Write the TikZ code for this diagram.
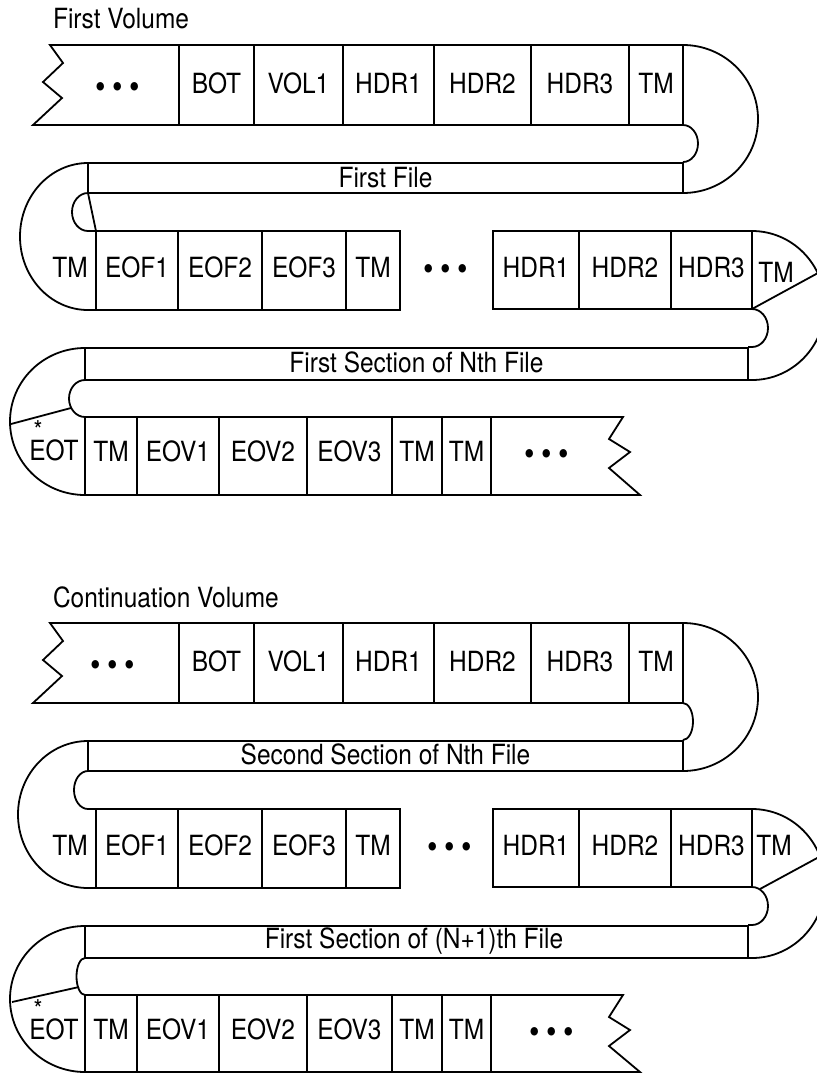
\documentclass[tikz,border=0pt]{standalone}
\usepackage{fontspec}
\setmainfont{TeX Gyre Heros}[FakeStretch=0.88]
\newcommand{\tapeDots}{\makebox[8.4pt]{•}\makebox[8.4pt]{•}\makebox[8.4pt]{•}}
\newcommand{\starMark}{\makebox[0pt][l]{\hspace{2.2pt}\raisebox{10.5pt}{\fontsize{13}{14}\selectfont *}}}
\tikzset{
  tapeLine/.style={line width=0.9pt},
  cellText/.style={anchor=base, inner sep=0pt},
  titleText/.style={anchor=base west},
  dotText/.style={anchor=base, inner sep=0pt, font=\fontsize{17}{18}\selectfont}
}

\begin{document}
\begin{tikzpicture}[x=0.5pt, y=-0.5pt, font={\fontsize{13.9}{16}\selectfont}]
      \useasboundingbox (0,0) rectangle (817,1073);
      \fill[white] (0,0) rectangle (817,1073);

      % first volume
      \draw (46,28) node[titleText] (titleA) {First Volume};
      \draw[tapeLine] (683,45) -- (50,45) -- (63,63) -- (43,82) -- (62,98) -- (33,125) -- (683,125);
      \draw[tapeLine] (179,45) -- (179,125);
      \draw[tapeLine] (254,45) -- (254,125);
      \draw[tapeLine] (343,45) -- (343,125);
      \draw[tapeLine] (434,45) -- (434,125);
      \draw[tapeLine] (531,45) -- (531,125);
      \draw[tapeLine] (629,45) -- (629,125);
      \draw[tapeLine] (683,45) -- (683,125);
      \draw[tapeLine] (683,45) arc[start angle=-90, end angle=90, x radius=75, y radius=74];
      \draw[tapeLine] (683,125) arc[start angle=-90, end angle=90, x radius=15, y radius=18.5];
      \draw (118,98) node[dotText] (dotsA1) {\tapeDots};
      \draw (216.5,93) node[cellText] (botA) {BOT};
      \draw (298.5,93) node[cellText] (volA) {VOL1};
      \draw (388.5,93) node[cellText] (hdrOneA) {HDR1};
      \draw (482.5,93) node[cellText] (hdrTwoA) {HDR2};
      \draw (580,93) node[cellText] (hdrThreeA) {HDR3};
      \draw (656,93) node[cellText] (tmA1) {TM};

      \draw[tapeLine] (88,163) rectangle (683,193);
      \draw (385.5,187) node[cellText] (fileA) {First File};
      \draw[tapeLine] (88,163) arc[start angle=270, end angle=90, x radius=68, y radius=73.5] -- (96,310);
      \draw[tapeLine] (88,193) arc[start angle=270, end angle=90, x radius=16, y radius=19] -- (96,231);
      \draw[tapeLine] (88,193) -- (96,231);

      \draw[tapeLine] (96,231) rectangle (400,310);
      \draw[tapeLine] (178,231) -- (178,310);
      \draw[tapeLine] (262,231) -- (262,310);
      \draw[tapeLine] (346,231) -- (346,310);
      \draw (70,277) node[cellText] (tmA2) {TM};
      \draw (137,277) node[cellText] (eofOneA) {EOF1};
      \draw (220,277) node[cellText] (eofTwoA) {EOF2};
      \draw (304,277) node[cellText] (eofThreeA) {EOF3};
      \draw (373,277) node[cellText] (tmA3) {TM};
      \draw (446,280) node[dotText] (dotsA2) {\tapeDots};

      \draw[tapeLine] (752,231) -- (493,231) -- (493,309) -- (752,309) -- cycle;
      \draw[tapeLine] (579,231) -- (579,309);
      \draw[tapeLine] (671,231) -- (671,309);
      \draw[tapeLine] (752,231) arc[start angle=-90, end angle=90, x radius=73, y radius=74.5] -- (748,380);
      \draw[tapeLine] (752,309) arc[start angle=-90, end angle=90, x radius=16, y radius=19] -- (748,347);
      \draw[tapeLine] (752,309) -- (818,273);
      \draw (536,277) node[cellText] (hdrOneA2) {HDR1};
      \draw (625,277) node[cellText] (hdrTwoA2) {HDR2};
      \draw (711.5,277) node[cellText] (hdrThreeA2) {HDR3};
      \draw (776,282) node[cellText] (tmA4) {TM};

      \draw[tapeLine] (85,348) rectangle (748,380);
      \draw (416.5,372) node[cellText] (sectionA) {First Section of Nth File};
      \draw[tapeLine] (85,348) arc[start angle=270, end angle=90, x radius=75, y radius=73.5];
      \draw[tapeLine] (85,380) arc[start angle=270, end angle=90, x radius=16, y radius=18.5];
      \draw[tapeLine] (71,408) -- (11,424);

      \draw[tapeLine] (85,417) -- (623,417) -- (609,439) -- (630,452) -- (609,468) -- (640,495) -- (85,495) -- cycle;
      \draw[tapeLine] (137,417) -- (137,495);
      \draw[tapeLine] (219,417) -- (219,495);
      \draw[tapeLine] (307,417) -- (307,495);
      \draw[tapeLine] (392,417) -- (392,495);
      \draw[tapeLine] (442,417) -- (442,495);
      \draw[tapeLine] (491,417) -- (491,495);
      \draw (54,460) node[cellText] (eotA) {\starMark EOT};
      \draw (111,461) node[cellText] (tmA5) {TM};
      \draw (178,461) node[cellText] (eovOneA) {EOV1};
      \draw (263,461) node[cellText] (eovTwoA) {EOV2};
      \draw (349.5,461) node[cellText] (eovThreeA) {EOV3};
      \draw (417,461) node[cellText] (tmA6) {TM};
      \draw (466.5,461) node[cellText] (tmA7) {TM};
      \draw (547,465) node[dotText] (dotsA3) {\tapeDots};

      % continuation volume
      \draw (46,607) node[titleText] (titleB) {Continuation Volume};
      \draw[tapeLine] (683,623) -- (50,623) -- (63,641) -- (43,660) -- (62,676) -- (33,703) -- (683,703);
      \draw[tapeLine] (179,623) -- (179,703);
      \draw[tapeLine] (254,623) -- (254,703);
      \draw[tapeLine] (343,623) -- (343,703);
      \draw[tapeLine] (434,623) -- (434,703);
      \draw[tapeLine] (531,623) -- (531,703);
      \draw[tapeLine] (629,623) -- (629,703);
      \draw[tapeLine] (683,623) -- (683,703);
      \draw[tapeLine] (683,623) arc[start angle=-90, end angle=90, x radius=75, y radius=74];
      \draw[tapeLine] (683,703) arc[start angle=-90, end angle=90, x radius=10, y radius=18.5];
      \draw (113,676) node[dotText] (dotsB1) {\tapeDots};
      \draw (216.5,671) node[cellText] (botB) {BOT};
      \draw (298.5,671) node[cellText] (volB) {VOL1};
      \draw (388.5,671) node[cellText] (hdrOneB) {HDR1};
      \draw (482.5,671) node[cellText] (hdrTwoB) {HDR2};
      \draw (580,671) node[cellText] (hdrThreeB) {HDR3};
      \draw (656,671) node[cellText] (tmB1) {TM};

      \draw[tapeLine] (88,741) rectangle (683,771);
      \draw (385.5,764) node[cellText] (fileB) {Second Section of Nth File};
      \draw[tapeLine] (88,741) arc[start angle=270, end angle=90, x radius=70, y radius=73.5] -- (96,888);
      \draw[tapeLine] (88,771) arc[start angle=270, end angle=90, x radius=14, y radius=19] -- (96,809);

      \draw[tapeLine] (96,809) rectangle (400,888);
      \draw[tapeLine] (178,809) -- (178,888);
      \draw[tapeLine] (262,809) -- (262,888);
      \draw[tapeLine] (346,809) -- (346,888);
      \draw (70,855) node[cellText] (tmB2) {TM};
      \draw (137,855) node[cellText] (eofOneB) {EOF1};
      \draw (220,855) node[cellText] (eofTwoB) {EOF2};
      \draw (304,855) node[cellText] (eofThreeB) {EOF3};
      \draw (373,855) node[cellText] (tmB3) {TM};
      \draw (450,858) node[dotText] (dotsB2) {\tapeDots};

      \draw[tapeLine] (752,809) -- (493,809) -- (493,887) -- (752,887) -- cycle;
      \draw[tapeLine] (579,809) -- (579,887);
      \draw[tapeLine] (671,809) -- (671,887);
      \draw[tapeLine] (752,809) arc[start angle=-90, end angle=90, x radius=73, y radius=74.5] -- (748,958);
      \draw[tapeLine] (752,887) arc[start angle=-90, end angle=90, x radius=16, y radius=19] -- (748,925);
      \draw[tapeLine] (760,889) -- (819,857);
      \draw (536,855) node[cellText] (hdrOneB2) {HDR1};
      \draw (625,855) node[cellText] (hdrTwoB2) {HDR2};
      \draw (711.5,855) node[cellText] (hdrThreeB2) {HDR3};
      \draw (774,855) node[cellText] (tmB4) {TM};

      \draw[tapeLine] (85,926) rectangle (748,958);
      \draw (414,948) node[cellText] (sectionB) {First Section of (N+1)th File};
      \draw[tapeLine] (85,926) arc[start angle=270, end angle=90, x radius=75, y radius=73];
      \draw[tapeLine] (85,958) arc[start angle=270, end angle=90, x radius=8.5, y radius=18.5];
      \draw[tapeLine] (79,987) -- (12,1002);

      \draw[tapeLine] (85,995) -- (623,995) -- (609,1017) -- (630,1030) -- (609,1046) -- (640,1072) -- (85,1072) -- cycle;
      \draw[tapeLine] (137,995) -- (137,1072);
      \draw[tapeLine] (219,995) -- (219,1072);
      \draw[tapeLine] (307,995) -- (307,1072);
      \draw[tapeLine] (392,995) -- (392,1072);
      \draw[tapeLine] (442,995) -- (442,1072);
      \draw[tapeLine] (491,995) -- (491,1072);
      \draw (54,1039) node[cellText] (eotB) {\starMark EOT};
      \draw (111,1039) node[cellText] (tmB5) {TM};
      \draw (178,1039) node[cellText] (eovOneB) {EOV1};
      \draw (263,1039) node[cellText] (eovTwoB) {EOV2};
      \draw (349.5,1039) node[cellText] (eovThreeB) {EOV3};
      \draw (417,1039) node[cellText] (tmB6) {TM};
      \draw (466.5,1039) node[cellText] (tmB7) {TM};
      \draw (552,1043) node[dotText] (dotsB3) {\tapeDots};

    \end{tikzpicture}
\end{document}
